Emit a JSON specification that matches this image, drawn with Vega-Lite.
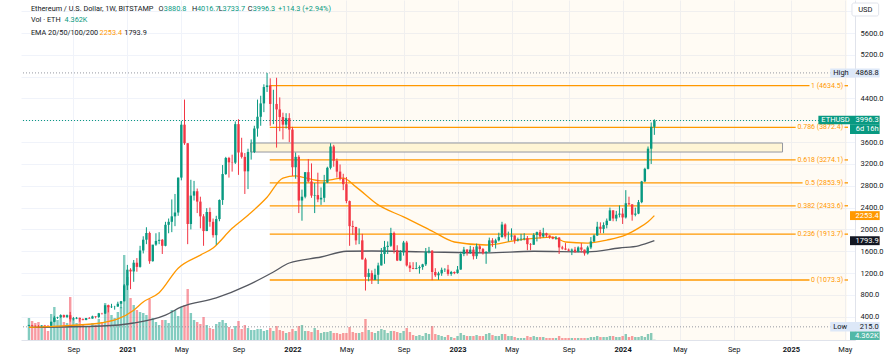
{
"$schema":"https://vega.github.io/schema/vega-lite/v6.json",
"width":834,"height":340,
"autosize":{"type":"none"},
"padding":{"left":21,"top":0,"right":35,"bottom":16},
"background":"#ffffff",
"config":{"view":{"stroke":null},"font":"Roboto","text":{"font":"Roboto"},
 "axis":{"labelFont":"Roboto","labelFontSize":7.5,"labelColor":"#131722","tickSize":0,"gridColor":"#f0f3fa","domainColor":"#e0e3eb","titleOpacity":0,"labelOverlap":false}},
"datasets":{
"one":[{}],
"candles":[
{"t":"2020-06-01","o":231,"h":253,"l":229,"c":245,"v":330},
{"t":"2020-06-08","o":245,"h":250,"l":226,"c":233,"v":285},
{"t":"2020-06-15","o":233,"h":241,"l":219,"c":229,"v":255},
{"t":"2020-06-22","o":229,"h":247,"l":215,"c":228,"v":270},
{"t":"2020-06-29","o":228,"h":245,"l":222,"c":240,"v":195},
{"t":"2020-07-06","o":240,"h":250,"l":236,"c":239,"v":225},
{"t":"2020-07-13","o":239,"h":243,"l":229,"c":236,"v":135},
{"t":"2020-07-20","o":236,"h":310,"l":235,"c":307,"v":390},
{"t":"2020-07-27","o":307,"h":416,"l":300,"c":385,"v":495},
{"t":"2020-08-03","o":385,"h":400,"l":361,"c":395,"v":300},
{"t":"2020-08-10","o":395,"h":445,"l":375,"c":430,"v":345},
{"t":"2020-08-17","o":430,"h":440,"l":378,"c":396,"v":270},
{"t":"2020-08-24","o":396,"h":440,"l":375,"c":428,"v":255},
{"t":"2020-08-31","o":428,"h":488,"l":310,"c":354,"v":645},
{"t":"2020-09-07","o":354,"h":396,"l":331,"c":366,"v":330},
{"t":"2020-09-14","o":366,"h":396,"l":355,"c":380,"v":255},
{"t":"2020-09-21","o":380,"h":385,"l":308,"c":355,"v":315},
{"t":"2020-09-28","o":355,"h":369,"l":333,"c":341,"v":240},
{"t":"2020-10-05","o":341,"h":379,"l":335,"c":376,"v":210},
{"t":"2020-10-12","o":376,"h":395,"l":362,"c":366,"v":195},
{"t":"2020-10-19","o":366,"h":420,"l":365,"c":407,"v":255},
{"t":"2020-10-26","o":407,"h":409,"l":370,"c":396,"v":225},
{"t":"2020-11-02","o":396,"h":470,"l":373,"c":463,"v":315},
{"t":"2020-11-09","o":463,"h":472,"l":440,"c":459,"v":270},
{"t":"2020-11-16","o":459,"h":619,"l":450,"c":609,"v":555},
{"t":"2020-11-23","o":609,"h":622,"l":480,"c":575,"v":525},
{"t":"2020-11-30","o":575,"h":637,"l":560,"c":585,"v":375},
{"t":"2020-12-07","o":585,"h":600,"l":530,"c":587,"v":330},
{"t":"2020-12-14","o":587,"h":675,"l":580,"c":638,"v":420},
{"t":"2020-12-21","o":638,"h":690,"l":555,"c":685,"v":495},
{"t":"2020-12-28","o":685,"h":1000,"l":680,"c":975,"v":1275},
{"t":"2021-01-04","o":975,"h":1350,"l":890,"c":1262,"v":945},
{"t":"2021-01-11","o":1262,"h":1290,"l":905,"c":1230,"v":630},
{"t":"2021-01-18","o":1230,"h":1440,"l":1040,"c":1390,"v":525},
{"t":"2021-01-25","o":1390,"h":1475,"l":1225,"c":1314,"v":450},
{"t":"2021-02-01","o":1314,"h":1700,"l":1300,"c":1614,"v":420},
{"t":"2021-02-08","o":1614,"h":1875,"l":1560,"c":1812,"v":405},
{"t":"2021-02-15","o":1812,"h":2040,"l":1730,"c":1935,"v":375},
{"t":"2021-02-22","o":1935,"h":1960,"l":1370,"c":1418,"v":615},
{"t":"2021-03-01","o":1418,"h":1660,"l":1410,"c":1722,"v":330},
{"t":"2021-03-08","o":1722,"h":1930,"l":1700,"c":1790,"v":270},
{"t":"2021-03-15","o":1790,"h":1950,"l":1730,"c":1810,"v":225},
{"t":"2021-03-22","o":1810,"h":1825,"l":1550,"c":1700,"v":300},
{"t":"2021-03-29","o":1700,"h":2140,"l":1690,"c":2085,"v":300},
{"t":"2021-04-05","o":2085,"h":2200,"l":1930,"c":2140,"v":255},
{"t":"2021-04-12","o":2140,"h":2550,"l":1950,"c":2240,"v":450},
{"t":"2021-04-19","o":2240,"h":2650,"l":2060,"c":2310,"v":450},
{"t":"2021-04-26","o":2310,"h":2950,"l":2250,"c":2950,"v":360},
{"t":"2021-05-03","o":2950,"h":3990,"l":2900,"c":3920,"v":495},
{"t":"2021-05-10","o":3920,"h":4380,"l":3550,"c":3580,"v":525},
{"t":"2021-05-17","o":3580,"h":3580,"l":1730,"c":2100,"v":765},
{"t":"2021-05-24","o":2100,"h":2910,"l":2000,"c":2620,"v":405},
{"t":"2021-05-31","o":2620,"h":2890,"l":2530,"c":2700,"v":300},
{"t":"2021-06-07","o":2700,"h":2750,"l":2300,"c":2510,"v":270},
{"t":"2021-06-14","o":2510,"h":2600,"l":2020,"c":2240,"v":240},
{"t":"2021-06-21","o":2240,"h":2280,"l":1700,"c":1970,"v":345},
{"t":"2021-06-28","o":1970,"h":2390,"l":1970,"c":2320,"v":225},
{"t":"2021-07-05","o":2320,"h":2400,"l":2050,"c":2140,"v":180},
{"t":"2021-07-12","o":2140,"h":2200,"l":1850,"c":1895,"v":165},
{"t":"2021-07-19","o":1895,"h":2250,"l":1720,"c":2190,"v":240},
{"t":"2021-07-26","o":2190,"h":2550,"l":2150,"c":2540,"v":270},
{"t":"2021-08-02","o":2540,"h":3180,"l":2450,"c":3015,"v":300},
{"t":"2021-08-09","o":3015,"h":3330,"l":3000,"c":3310,"v":255},
{"t":"2021-08-16","o":3310,"h":3330,"l":2950,"c":3230,"v":195},
{"t":"2021-08-23","o":3230,"h":3370,"l":3060,"c":3225,"v":165},
{"t":"2021-08-30","o":3225,"h":3980,"l":3200,"c":3930,"v":210},
{"t":"2021-09-06","o":3930,"h":4020,"l":3000,"c":3410,"v":285},
{"t":"2021-09-13","o":3410,"h":3680,"l":3300,"c":3330,"v":165},
{"t":"2021-09-20","o":3330,"h":3400,"l":2650,"c":3065,"v":225},
{"t":"2021-09-27","o":3065,"h":3480,"l":2740,"c":3420,"v":180},
{"t":"2021-10-04","o":3420,"h":3650,"l":3280,"c":3420,"v":150},
{"t":"2021-10-11","o":3420,"h":3900,"l":3400,"c":3850,"v":150},
{"t":"2021-10-18","o":3850,"h":4380,"l":3700,"c":4065,"v":165},
{"t":"2021-10-25","o":4065,"h":4450,"l":3900,"c":4310,"v":165},
{"t":"2021-11-01","o":4310,"h":4660,"l":4150,"c":4610,"v":135},
{"t":"2021-11-08","o":4610,"h":4868.8,"l":4520,"c":4640,"v":150},
{"t":"2021-11-15","o":4640,"h":4770,"l":3900,"c":4300,"v":180},
{"t":"2021-11-22","o":4300,"h":4560,"l":3930,"c":4300,"v":135},
{"t":"2021-11-29","o":4300,"h":4780,"l":3500,"c":4200,"v":210},
{"t":"2021-12-06","o":4200,"h":4420,"l":3800,"c":4060,"v":150},
{"t":"2021-12-13","o":4060,"h":4140,"l":3650,"c":3920,"v":135},
{"t":"2021-12-20","o":3920,"h":4130,"l":3850,"c":4040,"v":105},
{"t":"2021-12-27","o":4040,"h":4130,"l":3600,"c":3830,"v":120},
{"t":"2022-01-03","o":3830,"h":3880,"l":2980,"c":3140,"v":165},
{"t":"2022-01-10","o":3140,"h":3410,"l":2930,"c":3330,"v":135},
{"t":"2022-01-17","o":3330,"h":3360,"l":2300,"c":2530,"v":210},
{"t":"2022-01-24","o":2530,"h":2730,"l":2160,"c":2600,"v":225},
{"t":"2022-01-31","o":2600,"h":3050,"l":2570,"c":3050,"v":135},
{"t":"2022-02-07","o":3050,"h":3290,"l":2860,"c":2880,"v":135},
{"t":"2022-02-14","o":2880,"h":3210,"l":2580,"c":2620,"v":120},
{"t":"2022-02-21","o":2620,"h":2850,"l":2300,"c":2630,"v":180},
{"t":"2022-02-28","o":2630,"h":3040,"l":2500,"c":2550,"v":150},
{"t":"2022-03-07","o":2550,"h":2770,"l":2450,"c":2580,"v":105},
{"t":"2022-03-14","o":2580,"h":3000,"l":2500,"c":2860,"v":120},
{"t":"2022-03-21","o":2860,"h":3150,"l":2850,"c":3130,"v":120},
{"t":"2022-03-28","o":3130,"h":3580,"l":3100,"c":3520,"v":135},
{"t":"2022-04-04","o":3520,"h":3550,"l":3150,"c":3260,"v":105},
{"t":"2022-04-11","o":3260,"h":3300,"l":2950,"c":3060,"v":105},
{"t":"2022-04-18","o":3060,"h":3190,"l":2900,"c":2930,"v":90},
{"t":"2022-04-25","o":2930,"h":3020,"l":2720,"c":2830,"v":105},
{"t":"2022-05-02","o":2830,"h":2960,"l":2480,"c":2520,"v":105},
{"t":"2022-05-09","o":2520,"h":2530,"l":1700,"c":2060,"v":195},
{"t":"2022-05-16","o":2060,"h":2160,"l":1900,"c":2045,"v":120},
{"t":"2022-05-23","o":2045,"h":2050,"l":1720,"c":1800,"v":105},
{"t":"2022-05-30","o":1800,"h":2020,"l":1730,"c":1800,"v":105},
{"t":"2022-06-06","o":1800,"h":1920,"l":1450,"c":1450,"v":120},
{"t":"2022-06-13","o":1450,"h":1480,"l":880,"c":1130,"v":315},
{"t":"2022-06-20","o":1130,"h":1280,"l":1050,"c":1200,"v":150},
{"t":"2022-06-27","o":1200,"h":1250,"l":1000,"c":1075,"v":120},
{"t":"2022-07-04","o":1075,"h":1280,"l":1070,"c":1170,"v":105},
{"t":"2022-07-11","o":1170,"h":1390,"l":1000,"c":1340,"v":135},
{"t":"2022-07-18","o":1340,"h":1660,"l":1340,"c":1550,"v":165},
{"t":"2022-07-25","o":1550,"h":1790,"l":1370,"c":1680,"v":150},
{"t":"2022-08-01","o":1680,"h":1780,"l":1550,"c":1700,"v":105},
{"t":"2022-08-08","o":1700,"h":2030,"l":1680,"c":1935,"v":135},
{"t":"2022-08-15","o":1935,"h":1960,"l":1560,"c":1620,"v":135},
{"t":"2022-08-22","o":1620,"h":1710,"l":1420,"c":1430,"v":120},
{"t":"2022-08-29","o":1430,"h":1620,"l":1420,"c":1580,"v":105},
{"t":"2022-09-05","o":1580,"h":1790,"l":1520,"c":1760,"v":135},
{"t":"2022-09-12","o":1760,"h":1790,"l":1320,"c":1340,"v":180},
{"t":"2022-09-19","o":1340,"h":1400,"l":1220,"c":1290,"v":120},
{"t":"2022-09-26","o":1290,"h":1400,"l":1270,"c":1275,"v":75},
{"t":"2022-10-03","o":1275,"h":1400,"l":1270,"c":1290,"v":60},
{"t":"2022-10-10","o":1290,"h":1340,"l":1190,"c":1310,"v":75},
{"t":"2022-10-17","o":1310,"h":1370,"l":1260,"c":1360,"v":60},
{"t":"2022-10-24","o":1360,"h":1660,"l":1330,"c":1590,"v":105},
{"t":"2022-10-31","o":1590,"h":1680,"l":1560,"c":1610,"v":90},
{"t":"2022-11-07","o":1610,"h":1620,"l":1070,"c":1220,"v":210},
{"t":"2022-11-14","o":1220,"h":1290,"l":1130,"c":1160,"v":90},
{"t":"2022-11-21","o":1160,"h":1225,"l":1075,"c":1195,"v":75},
{"t":"2022-11-28","o":1195,"h":1300,"l":1150,"c":1260,"v":60},
{"t":"2022-12-05","o":1260,"h":1290,"l":1220,"c":1265,"v":45},
{"t":"2022-12-12","o":1265,"h":1350,"l":1150,"c":1185,"v":75},
{"t":"2022-12-19","o":1185,"h":1240,"l":1150,"c":1220,"v":45},
{"t":"2022-12-26","o":1220,"h":1230,"l":1180,"c":1200,"v":30},
{"t":"2023-01-02","o":1200,"h":1330,"l":1190,"c":1265,"v":60},
{"t":"2023-01-09","o":1265,"h":1590,"l":1260,"c":1550,"v":105},
{"t":"2023-01-16","o":1550,"h":1680,"l":1510,"c":1630,"v":75},
{"t":"2023-01-23","o":1630,"h":1640,"l":1520,"c":1575,"v":60},
{"t":"2023-01-30","o":1575,"h":1700,"l":1550,"c":1630,"v":60},
{"t":"2023-02-06","o":1630,"h":1680,"l":1450,"c":1510,"v":60},
{"t":"2023-02-13","o":1510,"h":1740,"l":1460,"c":1690,"v":75},
{"t":"2023-02-20","o":1690,"h":1720,"l":1580,"c":1640,"v":60},
{"t":"2023-02-27","o":1640,"h":1660,"l":1540,"c":1565,"v":60},
{"t":"2023-03-06","o":1565,"h":1600,"l":1370,"c":1590,"v":90},
{"t":"2023-03-13","o":1590,"h":1850,"l":1580,"c":1800,"v":105},
{"t":"2023-03-20","o":1800,"h":1840,"l":1680,"c":1750,"v":75},
{"t":"2023-03-27","o":1750,"h":1830,"l":1650,"c":1800,"v":60},
{"t":"2023-04-03","o":1800,"h":1940,"l":1780,"c":1860,"v":60},
{"t":"2023-04-10","o":1860,"h":2140,"l":1850,"c":2090,"v":90},
{"t":"2023-04-17","o":2090,"h":2110,"l":1830,"c":1870,"v":90},
{"t":"2023-04-24","o":1870,"h":1960,"l":1780,"c":1870,"v":60},
{"t":"2023-05-01","o":1870,"h":2020,"l":1800,"c":1890,"v":60},
{"t":"2023-05-08","o":1890,"h":1890,"l":1740,"c":1800,"v":45},
{"t":"2023-05-15","o":1800,"h":1850,"l":1780,"c":1820,"v":30},
{"t":"2023-05-22","o":1820,"h":1920,"l":1790,"c":1830,"v":30},
{"t":"2023-05-29","o":1830,"h":1930,"l":1800,"c":1840,"v":30},
{"t":"2023-06-05","o":1840,"h":1880,"l":1620,"c":1730,"v":60},
{"t":"2023-06-12","o":1730,"h":1750,"l":1620,"c":1720,"v":45},
{"t":"2023-06-19","o":1720,"h":1930,"l":1720,"c":1900,"v":60},
{"t":"2023-06-26","o":1900,"h":1960,"l":1780,"c":1950,"v":45},
{"t":"2023-07-03","o":1950,"h":1990,"l":1830,"c":1870,"v":45},
{"t":"2023-07-10","o":1870,"h":2030,"l":1850,"c":1930,"v":45},
{"t":"2023-07-17","o":1930,"h":1940,"l":1850,"c":1890,"v":30},
{"t":"2023-07-24","o":1890,"h":1890,"l":1830,"c":1860,"v":30},
{"t":"2023-07-31","o":1860,"h":1870,"l":1820,"c":1830,"v":30},
{"t":"2023-08-07","o":1830,"h":1880,"l":1810,"c":1850,"v":30},
{"t":"2023-08-14","o":1850,"h":1860,"l":1550,"c":1670,"v":60},
{"t":"2023-08-21","o":1670,"h":1700,"l":1630,"c":1650,"v":30},
{"t":"2023-08-28","o":1650,"h":1750,"l":1620,"c":1630,"v":30},
{"t":"2023-09-04","o":1630,"h":1650,"l":1600,"c":1610,"v":30},
{"t":"2023-09-11","o":1610,"h":1650,"l":1530,"c":1630,"v":30},
{"t":"2023-09-18","o":1630,"h":1680,"l":1570,"c":1590,"v":30},
{"t":"2023-09-25","o":1590,"h":1690,"l":1580,"c":1670,"v":30},
{"t":"2023-10-02","o":1670,"h":1750,"l":1580,"c":1630,"v":30},
{"t":"2023-10-09","o":1630,"h":1630,"l":1520,"c":1560,"v":30},
{"t":"2023-10-16","o":1560,"h":1700,"l":1540,"c":1670,"v":30},
{"t":"2023-10-23","o":1670,"h":1860,"l":1640,"c":1780,"v":45},
{"t":"2023-10-30","o":1780,"h":1910,"l":1770,"c":1890,"v":45},
{"t":"2023-11-06","o":1890,"h":2140,"l":1880,"c":2050,"v":60},
{"t":"2023-11-13","o":2050,"h":2130,"l":1930,"c":2010,"v":45},
{"t":"2023-11-20","o":2010,"h":2130,"l":1930,"c":2080,"v":45},
{"t":"2023-11-27","o":2080,"h":2200,"l":2020,"c":2160,"v":45},
{"t":"2023-12-04","o":2160,"h":2400,"l":2160,"c":2350,"v":60},
{"t":"2023-12-11","o":2350,"h":2350,"l":2150,"c":2200,"v":60},
{"t":"2023-12-18","o":2200,"h":2340,"l":2150,"c":2270,"v":45},
{"t":"2023-12-25","o":2270,"h":2440,"l":2220,"c":2290,"v":45},
{"t":"2024-01-01","o":2290,"h":2390,"l":2100,"c":2220,"v":60},
{"t":"2024-01-08","o":2220,"h":2720,"l":2200,"c":2480,"v":90},
{"t":"2024-01-15","o":2480,"h":2600,"l":2450,"c":2460,"v":45},
{"t":"2024-01-22","o":2460,"h":2460,"l":2160,"c":2270,"v":60},
{"t":"2024-01-29","o":2270,"h":2400,"l":2240,"c":2290,"v":45},
{"t":"2024-02-05","o":2290,"h":2540,"l":2280,"c":2500,"v":45},
{"t":"2024-02-12","o":2500,"h":2890,"l":2480,"c":2880,"v":60},
{"t":"2024-02-19","o":2880,"h":3130,"l":2870,"c":3110,"v":45},
{"t":"2024-02-26","o":3110,"h":3520,"l":3100,"c":3480,"v":90},
{"t":"2024-03-04","o":3480,"h":3960,"l":3200,"c":3880.8,"v":105},
{"t":"2024-03-11","o":3880.8,"h":4016.7,"l":3733.7,"c":3996.3,"v":4.362}
],
"ema50":[
{"t":"2020-06-01","v":205},{"t":"2020-08-31","v":240},{"t":"2020-11-09","v":290},{"t":"2020-12-14","v":360},
{"t":"2021-01-18","v":520},{"t":"2021-02-08","v":670},{"t":"2021-03-15","v":840},{"t":"2021-04-26","v":1290},
{"t":"2021-06-14","v":1530},{"t":"2021-07-12","v":1660},{"t":"2021-08-23","v":2020},{"t":"2021-09-27","v":2260},
{"t":"2021-11-08","v":2590},{"t":"2021-12-13","v":2940},{"t":"2022-01-10","v":2980},{"t":"2022-01-24","v":2960},
{"t":"2022-03-07","v":2890},{"t":"2022-04-25","v":2940},{"t":"2022-05-23","v":2780},{"t":"2022-07-11","v":2450},
{"t":"2022-09-05","v":2230},{"t":"2022-11-07","v":1970},{"t":"2022-12-26","v":1770},{"t":"2023-03-06","v":1715},
{"t":"2023-05-15","v":1805},{"t":"2023-07-31","v":1860},{"t":"2023-08-28","v":1770},{"t":"2023-10-16","v":1750},
{"t":"2023-11-27","v":1805},{"t":"2024-01-08","v":1900},{"t":"2024-02-05","v":2025},{"t":"2024-02-26","v":2140},
{"t":"2024-03-11","v":2253.4}
],
"ema200":[
{"t":"2020-06-01","v":205},{"t":"2020-11-09","v":230},{"t":"2021-01-18","v":285},{"t":"2021-03-29","v":430},
{"t":"2021-05-03","v":580},{"t":"2021-07-19","v":745},{"t":"2021-09-27","v":980},{"t":"2021-11-22","v":1220},
{"t":"2021-12-27","v":1385},{"t":"2022-03-07","v":1495},{"t":"2022-05-02","v":1600},{"t":"2022-06-27","v":1605},
{"t":"2022-10-17","v":1590},{"t":"2023-03-06","v":1570},{"t":"2023-06-19","v":1600},{"t":"2023-10-16","v":1590},
{"t":"2023-12-25","v":1660},{"t":"2024-02-05","v":1700},{"t":"2024-03-11","v":1793.9}
],
"fib":[
{"r":"1","p":4634.5,"g":"a","lab":"1 (4634.5)"},
{"r":"0.786","p":3872.4,"g":"c","lab":"0.786 (3872.4)"},
{"r":"0.618","p":3274.1,"g":"c","lab":"0.618 (3274.1)"},
{"r":"0.5","p":2853.9,"g":"b","lab":"0.5 (2853.9)"},
{"r":"0.382","p":2433.6,"g":"c","lab":"0.382 (2433.6)"},
{"r":"0.236","p":1913.7,"g":"c","lab":"0.236 (1913.7)"},
{"r":"0","p":1073.3,"g":"a","lab":"0 (1073.3)"}
],
"levels":[
{"k":"last","p":3996.3},{"k":"high","p":4868.8},{"k":"low","p":215.0}
]
},
"layer":[
{
"data":{"name":"candles"},
"mark":{"type":"bar","size":2.4,"opacity":0.5},
"encoding":{
 "x":{"field":"t","type":"temporal","title":null,"scale":{"type":"utc","domain":[1590408000000,1747382918718],"nice":false},
   "axis":{"title":null,"values":[1599436800000,1609718400000,1620000000000,1630886400000,1641168000000,1651449600000,1662336000000,1672617600000,1682899200000,1693785600000,1704067200000,1714953600000,1725235200000,1736121600000,1746403200000],
    "labelExpr":"utcmonth(datum.value)==0 ? utcFormat(datum.value,'%Y') : utcFormat(datum.value,'%b')",
    "labelFontWeight":{"condition":{"test":"utcmonth(datum.value)==0","value":"bold"},"value":"normal"},
    "labelPadding":5,"labelFlush":false,"labelOverlap":false,"grid":true,"tickCount":40}},
 "y":{"field":"v","type":"quantitative","title":null,"scale":{"domain":[0,5100],"nice":false},"axis":null},
 "color":{"condition":{"test":"datum.c>=datum.o","value":"#089981"},"value":"#F23645"}}
},
{
"layer":[
{"data":{"name":"one"},"mark":{"type":"rect","color":"#FF9800","opacity":0.045},
 "encoding":{
  "x":{"datum":1636841707971,"type":"temporal","title":null,"scale":{"type":"utc","domain":[1590408000000,1747382918718],"nice":false}},
  "x2":{"datum":1746818260737},
  "y":{"datum":6205.2,"type":"quantitative","title":null,"scale":{"domain":[-26.4,6205.2],"nice":false,"zero":false},
   "axis":{"orient":"right","title":null,"values":[400,800,1200,1600,2000,2400,2800,3200,3600,4000,4400,4800,5200,5600,6000],
    "labelExpr":"(datum.value==4000||datum.value==4800||datum.value==6000)?'':format(datum.value,'.1f')",
    "labelAlign":"left","labelPadding":5,"grid":true,"labelOverlap":false,"tickCount":40}},
  "y2":{"datum":-26.4}}},
{"data":{"name":"one"},"mark":{"type":"rect","fill":"#fff5d5","stroke":"#9598a1","strokeWidth":1},
 "encoding":{
  "x":{"datum":1633190253027,"type":"temporal","title":null},
  "x2":{"datum":1734527539684},
  "y":{"datum":3584,"type":"quantitative","title":null},
  "y2":{"datum":3419}}},
{"data":{"name":"fib"},"transform":[{"filter":"datum.g=='a'"}],
 "mark":{"type":"rule","color":"#FF9800","strokeWidth":1.3},
 "encoding":{
  "x":{"datum":1636841707971,"type":"temporal","title":null},
  "x2":{"datum":1739665926311},
  "y":{"field":"p","type":"quantitative","title":null}}},
{"data":{"name":"fib"},"transform":[{"filter":"datum.g=='b'"}],
 "mark":{"type":"rule","color":"#FF9800","strokeWidth":1.3},
 "encoding":{
  "x":{"datum":1636841707971,"type":"temporal","title":null},
  "x2":{"datum":1738348391022},
  "y":{"field":"p","type":"quantitative","title":null}}},
{"data":{"name":"fib"},"transform":[{"filter":"datum.g=='c'"}],
 "mark":{"type":"rule","color":"#FF9800","strokeWidth":1.3},
 "encoding":{
  "x":{"datum":1636841707971,"type":"temporal","title":null},
  "x2":{"datum":1737030855733},
  "y":{"field":"p","type":"quantitative","title":null}}},
{"data":{"name":"fib"},
 "mark":{"type":"rule","color":"#FF9800","strokeWidth":1.3},
 "encoding":{
  "x":{"datum":1746347712420,"type":"temporal","title":null},
  "x2":{"datum":1747006480064},
  "y":{"field":"p","type":"quantitative","title":null}}},
{"data":{"name":"fib"},
 "mark":{"type":"text","color":"#FF9800","fontSize":7,"align":"right","baseline":"middle"},
 "encoding":{
  "x":{"datum":1746065383429,"type":"temporal","title":null},
  "y":{"field":"p","type":"quantitative","title":null},
  "text":{"field":"lab"}}},
{"data":{"name":"levels"},"transform":[{"filter":"datum.k=='last'"}],
 "mark":{"type":"rule","color":"#089981","strokeWidth":1,"strokeDash":[1,2]},
 "encoding":{"y":{"field":"p","type":"quantitative","title":null}}},
{"data":{"name":"levels"},"transform":[{"filter":"datum.k!='last'"}],
 "mark":{"type":"rule","color":"#9598a1","strokeWidth":1,"strokeDash":[1,2]},
 "encoding":{"y":{"field":"p","type":"quantitative","title":null}}},
{"data":{"name":"ema200"},"mark":{"type":"line","color":"#555860","strokeWidth":1.3,"interpolate":"monotone"},
 "encoding":{"x":{"field":"t","type":"temporal","title":null},"y":{"field":"v","type":"quantitative","title":null}}},
{"data":{"name":"ema50"},"mark":{"type":"line","color":"#FF9800","strokeWidth":1.3,"interpolate":"monotone"},
 "encoding":{"x":{"field":"t","type":"temporal","title":null},"y":{"field":"v","type":"quantitative","title":null}}},
{"data":{"name":"candles"},"mark":{"type":"rule","strokeWidth":1},
 "encoding":{
  "x":{"field":"t","type":"temporal","title":null},
  "y":{"field":"l","type":"quantitative","title":null},
  "y2":{"field":"h"},
  "color":{"condition":{"test":"datum.c>=datum.o","value":"#089981"},"value":"#F23645"}}},
{"data":{"name":"candles"},"mark":{"type":"bar","size":2.4},
 "encoding":{
  "x":{"field":"t","type":"temporal","title":null},
  "y":{"field":"o","type":"quantitative","title":null},
  "y2":{"field":"c"},
  "color":{"condition":{"test":"datum.c>=datum.o","value":"#089981"},"value":"#F23645"}}},
{"data":{"name":"one"},"mark":{"type":"rect","fill":"#ffffff","stroke":"#e0e3eb","strokeWidth":1,"cornerRadius":2},
 "encoding":{"x":{"datum":1747759357372,"type":"temporal","title":null},"x2":{"datum":1752841279201},
  "y":{"datum":6150.2,"type":"quantitative","title":null},"y2":{"datum":5912}}},
{"data":{"name":"one"},"mark":{"type":"text","text":"USD","fontSize":7.5,"color":"#131722","align":"center","baseline":"middle"},
 "encoding":{"x":{"datum":1750300318287,"type":"temporal","title":null},"y":{"datum":6031,"type":"quantitative","title":null}}},
{"data":{"name":"one"},"mark":{"type":"rect","fill":"#dde8f8"},
 "encoding":{"x":{"datum":1743618532178,"type":"temporal","title":null},"x2":{"datum":1753029498528},
  "y":{"datum":4950,"type":"quantitative","title":null},"y2":{"datum":4785}}},
{"data":{"name":"one"},"mark":{"type":"text","text":"High","fontSize":7.5,"color":"#131722","align":"left","baseline":"middle"},
 "encoding":{"x":{"datum":1744183190159,"type":"temporal","title":null},"y":{"datum":4868.8,"type":"quantitative","title":null}}},
{"data":{"name":"one"},"mark":{"type":"text","text":"4868.8","fontSize":7.5,"color":"#131722","align":"right","baseline":"middle"},
 "encoding":{"x":{"datum":1752841279201,"type":"temporal","title":null},"y":{"datum":4868.8,"type":"quantitative","title":null}}},
{"data":{"name":"one"},"mark":{"type":"rect","fill":"#dde8f8"},
 "encoding":{"x":{"datum":1743618532178,"type":"temporal","title":null},"x2":{"datum":1753029498528},
  "y":{"datum":304,"type":"quantitative","title":null},"y2":{"datum":129.5}}},
{"data":{"name":"one"},"mark":{"type":"text","text":"Low","fontSize":7.5,"color":"#131722","align":"left","baseline":"middle"},
 "encoding":{"x":{"datum":1744183190159,"type":"temporal","title":null},"y":{"datum":217,"type":"quantitative","title":null}}},
{"data":{"name":"one"},"mark":{"type":"text","text":"215.0","fontSize":7.5,"color":"#131722","align":"right","baseline":"middle"},
 "encoding":{"x":{"datum":1752841279201,"type":"temporal","title":null},"y":{"datum":217,"type":"quantitative","title":null}}},
{"data":{"name":"one"},"mark":{"type":"rect","fill":"#089981"},
 "encoding":{"x":{"datum":1741359900254,"type":"temporal","title":null},"x2":{"datum":1753029498528},
  "y":{"datum":4084.7,"type":"quantitative","title":null},"y2":{"datum":3928.9}}},
{"data":{"name":"one"},"mark":{"type":"rect","fill":"#089981"},
 "encoding":{"x":{"datum":1747382918718,"type":"temporal","title":null},"x2":{"datum":1753029498528},
  "y":{"datum":3928.9,"type":"quantitative","title":null},"y2":{"datum":3749.2}}},
{"data":{"name":"one"},"mark":{"type":"text","text":"ETHUSD","fontSize":7.5,"color":"#ffffff","align":"left","baseline":"middle"},
 "encoding":{"x":{"datum":1741924558235,"type":"temporal","title":null},"y":{"datum":4006,"type":"quantitative","title":null}}},
{"data":{"name":"one"},"mark":{"type":"text","text":"3996.3","fontSize":7.5,"color":"#ffffff","align":"right","baseline":"middle"},
 "encoding":{"x":{"datum":1752841279201,"type":"temporal","title":null},"y":{"datum":4006,"type":"quantitative","title":null}}},
{"data":{"name":"one"},"mark":{"type":"text","text":"6d 16h","fontSize":7.5,"color":"#ffffff","align":"right","baseline":"middle"},
 "encoding":{"x":{"datum":1752841279201,"type":"temporal","title":null},"y":{"datum":3839,"type":"quantitative","title":null}}},
{"data":{"name":"one"},"mark":{"type":"rect","fill":"#FF9800"},
 "encoding":{"x":{"datum":1747382918718,"type":"temporal","title":null},"x2":{"datum":1753029498528},
  "y":{"datum":2335,"type":"quantitative","title":null},"y2":{"datum":2172}}},
{"data":{"name":"one"},"mark":{"type":"text","text":"2253.4","fontSize":7.5,"color":"#ffffff","align":"right","baseline":"middle"},
 "encoding":{"x":{"datum":1752841279201,"type":"temporal","title":null},"y":{"datum":2253.4,"type":"quantitative","title":null}}},
{"data":{"name":"one"},"mark":{"type":"rect","fill":"#131722"},
 "encoding":{"x":{"datum":1747382918718,"type":"temporal","title":null},"x2":{"datum":1753029498528},
  "y":{"datum":1875,"type":"quantitative","title":null},"y2":{"datum":1712}}},
{"data":{"name":"one"},"mark":{"type":"text","text":"1793.9","fontSize":7.5,"color":"#ffffff","align":"right","baseline":"middle"},
 "encoding":{"x":{"datum":1752841279201,"type":"temporal","title":null},"y":{"datum":1793.9,"type":"quantitative","title":null}}},
{"data":{"name":"one"},"mark":{"type":"rect","fill":"#52b8a7"},
 "encoding":{"x":{"datum":1747382918718,"type":"temporal","title":null},"x2":{"datum":1753029498528},
  "y":{"datum":129.5,"type":"quantitative","title":null},"y2":{"datum":-26.4}}},
{"data":{"name":"one"},"mark":{"type":"text","text":"4.362K","fontSize":7.5,"color":"#ffffff","align":"right","baseline":"middle"},
 "encoding":{"x":{"datum":1752841279201,"type":"temporal","title":null},"y":{"datum":51,"type":"quantitative","title":null}}},
{"data":{"name":"one"},"mark":{"type":"text","text":"Ethereum / U.S. Dollar, 1W, BITSTAMP","fontSize":7.3,"color":"#131722","align":"left","baseline":"middle"},
 "encoding":{"x":{"datum":1591349096635,"type":"temporal","title":null},"y":{"datum":6049.4,"type":"quantitative","title":null}}},
{"data":{"name":"one"},"mark":{"type":"text","text":"O","fontSize":7.3,"color":"#131722","align":"left","baseline":"middle"},
 "encoding":{"x":{"datum":1615629389818,"type":"temporal","title":null},"y":{"datum":6049.4,"type":"quantitative","title":null}}},
{"data":{"name":"one"},"mark":{"type":"text","text":"3880.8","fontSize":7.3,"color":"#089981","align":"left","baseline":"middle"},
 "encoding":{"x":{"datum":1616664596117,"type":"temporal","title":null},"y":{"datum":6049.4,"type":"quantitative","title":null}}},
{"data":{"name":"one"},"mark":{"type":"text","text":"H","fontSize":7.3,"color":"#131722","align":"left","baseline":"middle"},
 "encoding":{"x":{"datum":1622028846936,"type":"temporal","title":null},"y":{"datum":6049.4,"type":"quantitative","title":null}}},
{"data":{"name":"one"},"mark":{"type":"text","text":"4016.7","fontSize":7.3,"color":"#089981","align":"left","baseline":"middle"},
 "encoding":{"x":{"datum":1622969943571,"type":"temporal","title":null},"y":{"datum":6049.4,"type":"quantitative","title":null}}},
{"data":{"name":"one"},"mark":{"type":"text","text":"L","fontSize":7.3,"color":"#131722","align":"left","baseline":"middle"},
 "encoding":{"x":{"datum":1627110768765,"type":"temporal","title":null},"y":{"datum":6049.4,"type":"quantitative","title":null}}},
{"data":{"name":"one"},"mark":{"type":"text","text":"3733.7","fontSize":7.3,"color":"#089981","align":"left","baseline":"middle"},
 "encoding":{"x":{"datum":1627863646073,"type":"temporal","title":null},"y":{"datum":6049.4,"type":"quantitative","title":null}}},
{"data":{"name":"one"},"mark":{"type":"text","text":"C","fontSize":7.3,"color":"#131722","align":"left","baseline":"middle"},
 "encoding":{"x":{"datum":1632663238912,"type":"temporal","title":null},"y":{"datum":6049.4,"type":"quantitative","title":null}}},
{"data":{"name":"one"},"mark":{"type":"text","text":"3996.3","fontSize":7.3,"color":"#089981","align":"left","baseline":"middle"},
 "encoding":{"x":{"datum":1633604335547,"type":"temporal","title":null},"y":{"datum":6049.4,"type":"quantitative","title":null}}},
{"data":{"name":"one"},"mark":{"type":"text","text":"+114.3 (+2.94%)","fontSize":7.3,"color":"#089981","align":"left","baseline":"middle"},
 "encoding":{"x":{"datum":1638403928385,"type":"temporal","title":null},"y":{"datum":6049.4,"type":"quantitative","title":null}}},
{"data":{"name":"one"},"mark":{"type":"text","text":"Vol · ETH","fontSize":7.3,"color":"#131722","align":"left","baseline":"middle"},
 "encoding":{"x":{"datum":1591349096635,"type":"temporal","title":null},"y":{"datum":5829.5,"type":"quantitative","title":null}}},
{"data":{"name":"one"},"mark":{"type":"text","text":"4.362K","fontSize":7.3,"color":"#089981","align":"left","baseline":"middle"},
 "encoding":{"x":{"datum":1597748553753,"type":"temporal","title":null},"y":{"datum":5829.5,"type":"quantitative","title":null}}},
{"data":{"name":"one"},"mark":{"type":"text","text":"EMA 20/50/100/200","fontSize":7.3,"color":"#131722","align":"left","baseline":"middle"},
 "encoding":{"x":{"datum":1591349096635,"type":"temporal","title":null},"y":{"datum":5609.5,"type":"quantitative","title":null}}},
{"data":{"name":"one"},"mark":{"type":"text","text":"2253.4","fontSize":7.3,"color":"#FF9800","align":"left","baseline":"middle"},
 "encoding":{"x":{"datum":1604430339862,"type":"temporal","title":null},"y":{"datum":5609.5,"type":"quantitative","title":null}}},
{"data":{"name":"one"},"mark":{"type":"text","text":"1793.9","fontSize":7.3,"color":"#131722","align":"left","baseline":"middle"},
 "encoding":{"x":{"datum":1609135823037,"type":"temporal","title":null},"y":{"datum":5609.5,"type":"quantitative","title":null}}}
]
}
],
"resolve":{"scale":{"y":"independent"}}
}
